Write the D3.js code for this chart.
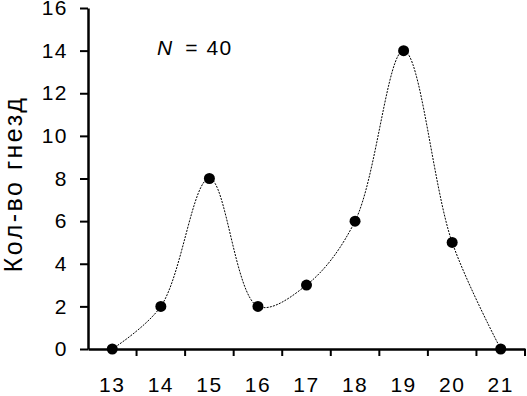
<!DOCTYPE html>
<html>
<head>
<meta charset="utf-8">
<script src="https://cdn.jsdelivr.net/npm/d3@7"></script>
<style>
  body { margin: 0; background: #fff; }
  text { font-family: "Liberation Sans", Arial, sans-serif; }
</style>
</head>
<body>
<div id="chart"></div>
<script>
const sizes = [13, 14, 15, 16, 17, 18, 19, 20, 21];
const nests = [0, 2, 8, 2, 3, 6, 14, 5, 0];
const yTicks = [0, 2, 4, 6, 8, 10, 12, 14, 16];

const W = 527, H = 396;
const margin = { top: 8, right: 2, bottom: 47, left: 88 },
      width = W - margin.left - margin.right,
      height = H - margin.top - margin.bottom;

const svg = d3.select("#chart")
  .append("svg")
  .attr("width", W)
  .attr("height", H)
  .append("g")
  .attr("transform", `translate(${margin.left}, ${margin.top})`);

const x = d3.scaleBand()
  .domain(sizes)
  .range([0, width]);

const y = d3.scaleLinear()
  .domain([0, 16])
  .range([height, 0]);

const data = sizes.map((s, i) => ({ s: s, v: nests[i] }));

// curve through points
const line = d3.line()
  .x(d => x(d.s) + x.bandwidth() / 2)
  .y(d => y(d.v))
  .curve(d3.curveCatmullRom.alpha(0.5));

svg.append("path")
  .datum(data)
  .attr("fill", "none")
  .attr("stroke", "#000")
  .attr("stroke-width", 1)
  .attr("stroke-dasharray", "2,1.2")
  .attr("d", line);

// y axis
const yAxis = svg.append("g")
  .call(d3.axisLeft(y).tickValues(yTicks).tickSize(8).tickPadding(12).tickSizeOuter(0));
yAxis.select(".domain").attr("stroke-width", 2.5);
yAxis.selectAll(".tick line").attr("stroke-width", 2);
yAxis.selectAll("text").style("font-size", "21px").style("letter-spacing", "1.5px").attr("fill", "#000");

// x axis with ticks between categories
const xAxis = svg.append("g")
  .attr("transform", `translate(0, ${height})`)
  .call(d3.axisBottom(x).tickSize(0).tickPadding(28));
xAxis.select(".domain").attr("stroke-width", 2.5);
xAxis.selectAll("text").style("font-size", "21px").style("letter-spacing", "1.5px").attr("fill", "#000");

xAxis.selectAll("line.sep")
  .data(sizes)
  .enter().append("line")
  .attr("class", "sep")
  .attr("x1", (d, i) => x(sizes[0]) + x.step() * (i + 1))
  .attr("x2", (d, i) => x(sizes[0]) + x.step() * (i + 1))
  .attr("y1", 0)
  .attr("y2", 7)
  .attr("stroke", "#000")
  .attr("stroke-width", 2);

// points
svg.selectAll("circle")
  .data(data)
  .enter().append("circle")
  .attr("cx", d => x(d.s) + x.bandwidth() / 2)
  .attr("cy", d => y(d.v))
  .attr("r", 5.5)
  .attr("fill", "#000");

// N label
const nLabel = svg.append("text")
  .attr("x", 69)
  .attr("y", 47)
  .style("font-size", "21px");
nLabel.append("tspan").style("font-style", "italic").text("N");
nLabel.append("tspan").attr("dx", 13).text("=");
nLabel.append("tspan").attr("dx", 9).style("letter-spacing", "1.5px").text("40");

// y title
svg.append("text")
  .attr("transform", `translate(${-66}, ${height / 2 + 5.5}) rotate(-90)`)
  .attr("text-anchor", "middle")
  .style("font-size", "25px")
  .style("letter-spacing", "2.5px")
  .text("Кол-во гнезд");
</script>
</body>
</html>
